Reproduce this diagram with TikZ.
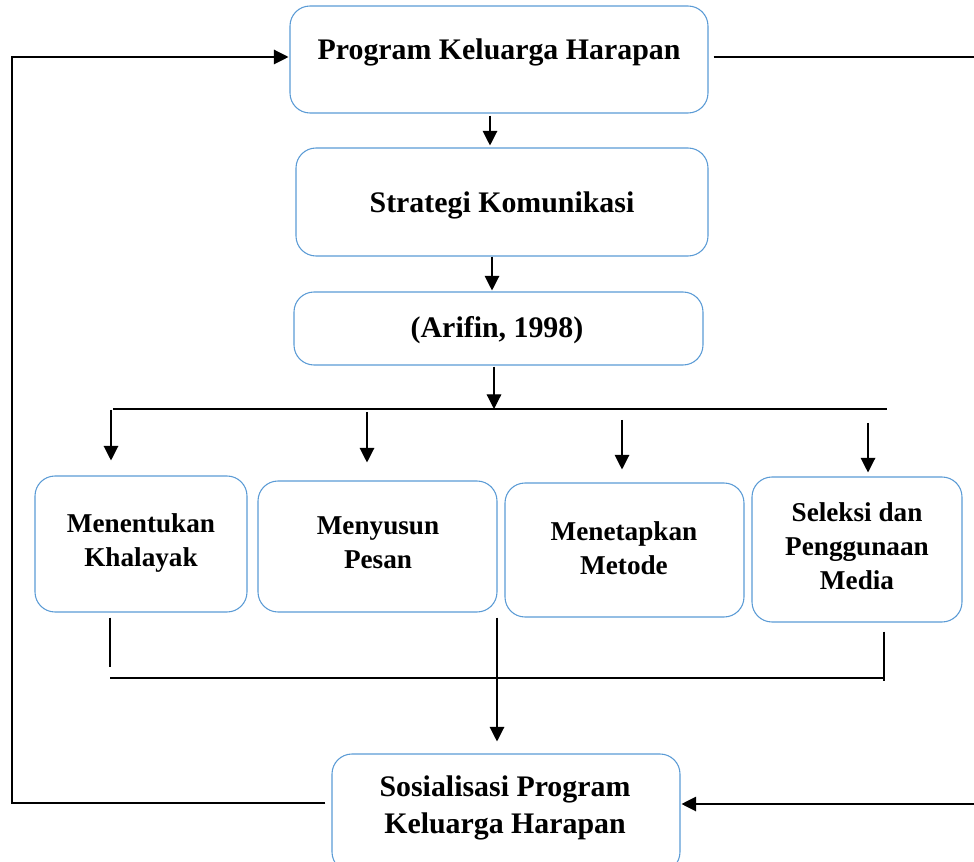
\documentclass[tikz,border=0pt]{standalone}
\usepackage{fontspec}
\setmainfont{Liberation Serif}
\usetikzlibrary{arrows.meta,calc}
\definecolor{boxblue}{RGB}{91,155,213}
\begin{document}
\begin{tikzpicture}[x=0.75pt,y=-0.75pt,
  box/.style={draw=boxblue, line width=0.8pt, rounded corners=15pt, inner sep=0pt},
  big/.style={font=\fontsize{22.4}{27.75}\selectfont\bfseries, align=center, inner sep=0pt},
  mid/.style={font=\fontsize{20.4}{25.5}\selectfont\bfseries, align=center, inner sep=0pt},
  ln/.style={line width=0.9pt, black},
  arr/.style={ln, -{Triangle[length=11pt,width=11pt]}}]
\useasboundingbox (0,0) rectangle (974,862);
% boxes
\node[box, minimum width=313.5pt, minimum height=80.25pt] (pkh) at (499,59.5) {};
\node[box, minimum width=309pt, minimum height=81pt] (sk) at (502,202) {};
\node[box, minimum width=306.75pt, minimum height=54.75pt] (ar) at (498.5,328.5) {};
\node[box, minimum width=159pt, minimum height=102pt] (mk) at (141,544) {};
\node[box, minimum width=179.25pt, minimum height=98.25pt] (mp) at (377.5,546.5) {};
\node[box, minimum width=179.25pt, minimum height=100.5pt] (mm) at (624.5,550) {};
\node[box, minimum width=157.5pt, minimum height=108.75pt] (sp) at (857,549.5) {};
\node[box, minimum width=261pt, minimum height=88.5pt] (sos) at (506,813) {};
% texts
\node[big] (tpkh) at (499,52) {Program Keluarga Harapan};
\node[big] (tsk) at (502,205) {Strategi Komunikasi};
\node[big] (tar) at (497,330) {(Arifin, 1998)};
\node[mid] (tmk) at (141,543) {Menentukan\\Khalayak};
\node[mid] (tmp) at (378,543) {Menyusun\\Pesan};
\node[mid] (tmm) at (624,548) {Menetapkan\\Metode};
\node[mid] (tsp) at (857,546) {Seleksi dan\\Penggunaan\\Media};
\node[big] (tsos) at (505,808) {Sosialisasi Program\\Keluarga Harapan};
% vertical chain
\draw[arr] ($(pkh.south)+(-9,2)$) -- ($(sk.north)+(-12,-2)$);
\draw[arr] ($(sk.south)+(-10,0)$) -- ($(ar.north)+(-6.5,-1)$);
\coordinate (busL) at (113,409);
\coordinate (busR) at (887,409);
\draw[arr] ($(ar.south)+(-4.5,1)$) -- (busL -| {$(ar.south)+(-4.5,0)$});
\draw[ln] (busL) -- (busR);
% drops
\coordinate (d1) at (111,410);
\coordinate (d2) at (367,412);
\coordinate (d3) at (622,420);
\coordinate (d4) at (868,423);
\draw[arr] (d1) -- ($(mk.north)+(-30,-15)$);
\draw[arr] (d2) -- ($(mp.north)+(-10.5,-18)$);
\draw[arr] (d3) -- ($(mm.north)+(-2.5,-13)$);
\draw[arr] (d4) -- ($(sp.north)+(11,-4)$);
% collection
\coordinate (cL) at (110,678);
\coordinate (cR) at (884,678);
\draw[ln] ($(mk.south)+(-31,5)$) -- ($(mk.south)+(-31,54)$);
\draw[ln] ($(sp.south)+(27,9)$) -- ($(sp.south)+(27,58)$);
\draw[ln] (cL) -- (cR);
\draw[arr] ($(mp.south)+(119.5,5)$) -- ($(sos.north)+(-9,-12)$);
% feedback loops
\coordinate (lt) at (12,57);
\coordinate (lb) at (12,803);
\draw[arr] ($(sos.west)+(-6,-10)$) -- (lb) -- (lt) -- ($(pkh.west)+(-1,-2.5)$);
\coordinate (rt) at (976,57);
\coordinate (rb) at (976,804);
\draw[ln] ($(pkh.east)+(5,-2.5)$) -- (rt) -- (rb);
\draw[arr] (rb) -- ($(sos.east)+(1,-9)$);
\end{tikzpicture}
\end{document}
